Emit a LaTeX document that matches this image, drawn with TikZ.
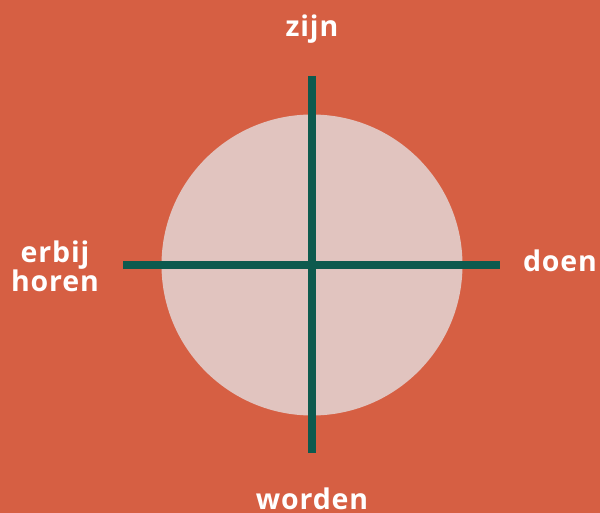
\documentclass[tikz,border=0pt]{standalone}
\usepackage{fontspec}
\setmainfont{Open Sans}[LetterSpace=3]
\definecolor{bg}{HTML}{D65F43}
\definecolor{disc}{HTML}{E1C4BF}
\definecolor{axis}{HTML}{0D5A4E}
\tikzset{
  lbl/.style={text=white, font=\fontsize{28.5}{29}\selectfont\bfseries, inner sep=0pt},
  axisline/.style={draw=axis, line width=8pt}
}
\begin{document}
\begin{tikzpicture}[x=1pt,y=-1pt]
\fill[bg] (0,0) rectangle (600,513);
\useasboundingbox (0,0) rectangle (600,513);
\node[circle, fill=disc, minimum size=301pt, inner sep=0pt] (c) at (312,265) {};
\coordinate (top) at (312,76);
\coordinate (bot) at (312,453);
\coordinate (lft) at (123,265);
\coordinate (rgt) at (500,265);
\draw[axisline] (top) -- (bot);
\draw[axisline] (lft) -- (rgt);
\node[lbl, anchor=base] (zijn) at (312,37) {zijn};
\node[lbl, anchor=base] (worden) at (312,509) {worden};
\node[lbl, anchor=base] (doen) at (560,272) {doen};
\node[lbl, anchor=base] (erbij) at (55,262) {erbij};
\node[lbl, anchor=base] (horen) at (55,291) {horen};
\end{tikzpicture}
\end{document}
